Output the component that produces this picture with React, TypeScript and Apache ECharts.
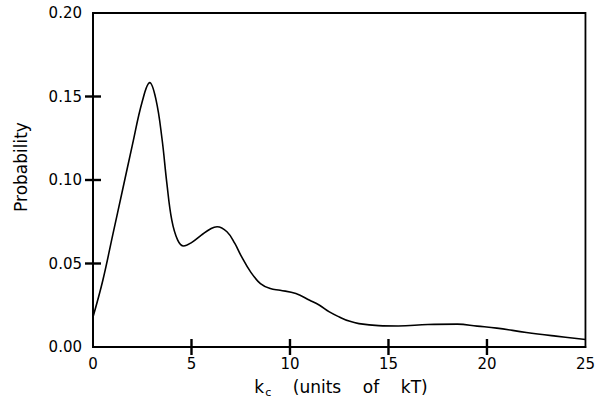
import React, { useEffect, useRef } from "react";
import * as echarts from "echarts";

const kValues = [0, 0.5, 1.0, 1.5, 2.0, 2.5, 2.88, 3.2, 3.5, 3.75, 4.0, 4.3, 4.6, 5.0, 5.5, 6.0, 6.3, 6.8, 7.2, 7.5, 8.0, 8.5, 9.0, 9.5, 10.3, 11.0, 11.5, 12.0, 12.5, 13.0, 13.5, 14.5, 15.5, 17.0, 18.5, 19.5, 20.5, 22.0, 23.5, 25.0];
const probValues = [0.018, 0.040, 0.067, 0.094, 0.121, 0.147, 0.1583, 0.148, 0.125, 0.098, 0.076, 0.064, 0.0605, 0.0625, 0.067, 0.071, 0.072, 0.069, 0.062, 0.055, 0.045, 0.038, 0.035, 0.034, 0.032, 0.028, 0.025, 0.021, 0.018, 0.0155, 0.014, 0.0128, 0.0126, 0.0135, 0.0137, 0.0125, 0.0113, 0.0087, 0.0065, 0.0045];
const xTicks = [5, 10, 15, 20];
const yTicks = [0.05, 0.1, 0.15];

export default function App() {
  const ref = useRef<HTMLDivElement>(null);
  useEffect(() => {
    document.body.style.margin = "0";
    const chart = echarts.init(ref.current!, null, { renderer: "svg" });
    const font = "DejaVu Sans";
    chart.setOption({
      animation: false,
      grid: {
        left: 93,
        right: 12,
        top: 13,
        bottom: 60,
        show: true,
        borderColor: "#000",
        borderWidth: 1.8,
      },
      xAxis: {
        type: "value",
        min: 0,
        max: 25,
        interval: 5,
        splitLine: { show: false },
        axisLine: { show: true, lineStyle: { color: "#000", width: 1.8 } },
        axisTick: { show: false },
        axisLabel: { color: "#000", fontSize: 15, fontFamily: font, margin: 9 },
      },
      yAxis: {
        type: "value",
        min: 0,
        max: 0.2,
        interval: 0.05,
        splitLine: { show: false },
        axisLine: { show: true, lineStyle: { color: "#000", width: 1.8 } },
        axisTick: { show: false },
        axisLabel: {
          color: "#000",
          fontSize: 15,
          fontFamily: font,
          margin: 11,
          formatter: (v: number) => v.toFixed(2),
        },
      },
      graphic: [
        {
          type: "text",
          x: 21,
          y: 167,
          rotation: Math.PI / 2,
          style: {
            text: "Probability",
            fill: "#000",
            font: `17px "${font}"`,
            align: "center",
            verticalAlign: "middle",
          },
        },
        {
          type: "text",
          x: 341,
          y: 387,
          style: {
            text: "k{sub|c}    (units    of    kT)",
            fill: "#000",
            font: `17px "${font}"`,
            align: "center",
            verticalAlign: "middle",
            rich: {
              sub: { fontSize: 11, fontFamily: font, padding: [11, 0, 0, 1] },
            },
          },
        },
      ],
      series: [
        {
          type: "line",
          data: kValues.map((k, i) => [k, probValues[i]]),
          smooth: 0.4,
          showSymbol: false,
          lineStyle: { color: "#000", width: 1.6 },
          z: 3,
        },
        {
          type: "custom",
          data: xTicks.map((k) => [k, 0]),
          clip: false,
          z: 10,
          renderItem: (params: any, api: any) => {
            const pt = api.coord([api.value(0), api.value(1)]);
            return {
              type: "rect",
              shape: { x: pt[0] - 1.2, y: pt[1] - 8, width: 2.4, height: 16 },
              style: { fill: "rgb(0,0,0)" },
            };
          },
        },
        {
          type: "custom",
          data: yTicks.map((p) => [0, p]),
          clip: false,
          z: 10,
          renderItem: (params: any, api: any) => {
            const pt = api.coord([api.value(0), api.value(1)]);
            return {
              type: "rect",
              shape: { x: pt[0] - 8, y: pt[1] - 1.2, width: 16, height: 2.4 },
              style: { fill: "rgb(0,0,0)" },
            };
          },
        },
      ],
    });
    return () => chart.dispose();
  }, []);
  return <div ref={ref} style={{ width: 598, height: 407 }} />;
}
